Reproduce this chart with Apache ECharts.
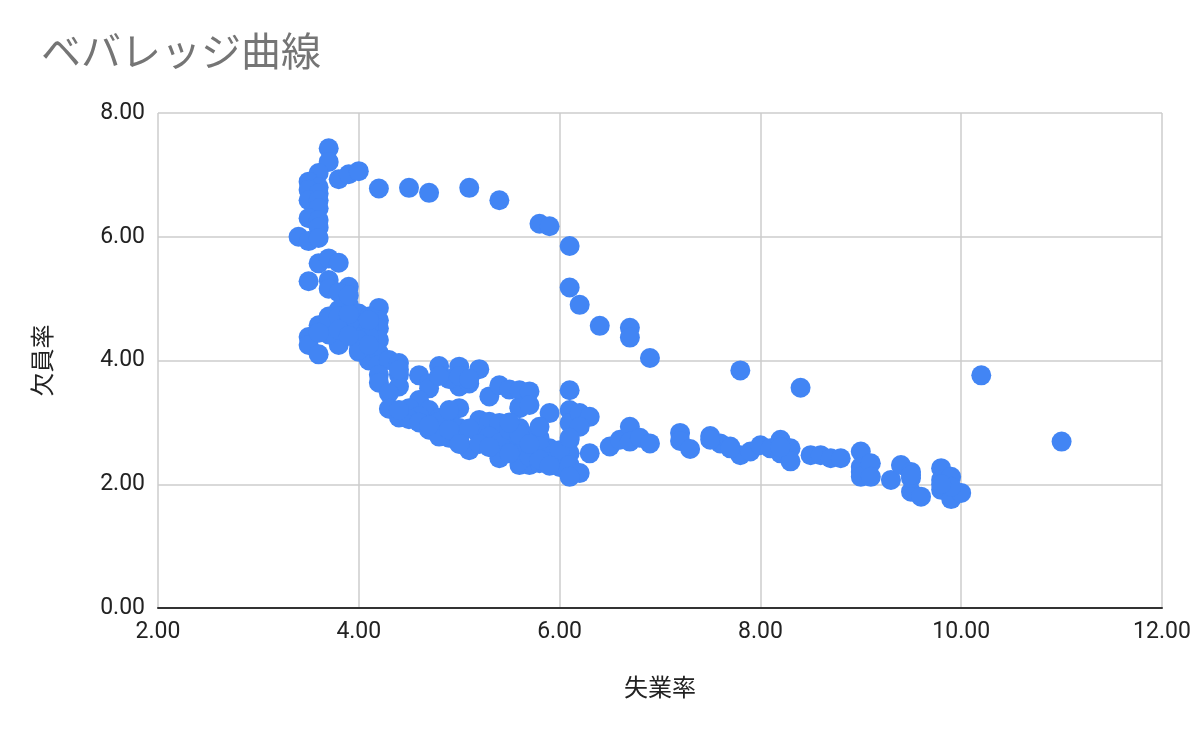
<!DOCTYPE html>
<html>
<head>
<meta charset="utf-8">
<script src="https://cdn.jsdelivr.net/npm/echarts@6/dist/echarts.min.js"></script>
<style>
  html, body { margin: 0; padding: 0; background: #fff; }
  #chart { width: 1200px; height: 742px; }
</style>
</head>
<body>
<div id="chart"></div>
<script>
// 失業率 / 欠員率 の組
const unemployment = [
  3.7, 3.7, 3.6, 3.5, 3.6, 3.5, 3.6, 3.5, 3.6, 3.6, 3.5, 3.6, 3.6, 3.4, 3.5, 3.6, 3.8, 3.9, 4.0, 4.2,
  4.5, 4.7, 5.1, 5.4, 5.8, 5.9, 6.1, 6.1, 6.2, 6.4, 6.7, 6.7, 6.9, 7.8, 8.4, 10.2, 11.0,
  3.6, 3.7, 3.8, 3.5, 3.7, 3.7, 3.9, 3.8, 3.9, 3.8, 4.2, 4.2, 4.2, 4.0, 3.7, 3.6, 3.5, 3.5, 3.6,
  3.8, 3.7, 4.0, 4.0, 4.0, 4.1, 4.2, 4.2, 4.2, 4.3, 4.4, 4.2, 3.7, 3.8, 3.9, 4.1, 4.1, 4.0, 4.1,
  3.9, 4.0, 4.1, 3.6, 3.8, 3.9, 4.1, 3.9,
  4.4, 4.4, 4.2, 4.3, 4.6, 4.7, 4.8, 5.0, 5.0, 5.1, 5.2, 5.3, 5.4, 5.5, 5.6, 5.7, 4.7, 4.9, 5.0,
  5.1, 4.8, 4.4, 6.1,
  4.3, 4.4, 4.6, 4.7, 4.8, 4.7, 5.0, 5.2, 4.5, 4.9, 4.9, 5.1, 5.3, 5.4, 5.4, 5.6, 5.7, 5.9, 5.9,
  5.6, 5.6, 5.8, 5.2, 4.8, 5.0, 5.5, 5.7, 5.6, 5.7, 6.1, 4.8, 5.0, 5.4, 5.3, 5.4, 5.6, 5.7, 5.8,
  6.0, 6.1, 6.1, 6.1, 5.8, 5.5, 5.6, 5.7, 5.8, 6.0, 4.9, 4.6, 4.5, 4.4, 4.6, 4.9, 5.1, 5.2, 5.3,
  5.5, 5.6, 5.5, 5.0, 4.7, 5.9, 5.8, 6.0, 5.9, 5.7,
  6.2, 6.3, 6.2, 6.1, 6.3, 6.1, 6.2, 6.1, 6.5, 6.6, 6.7, 6.7, 6.8, 6.9, 7.2, 7.2, 7.3, 7.5, 7.6,
  7.7, 7.8, 7.9, 8.0, 8.1, 8.2, 8.2, 8.3, 8.3, 8.5, 8.6, 8.7, 8.8, 9.0, 9.0, 9.0, 9.0, 9.1, 9.1,
  9.3, 9.4, 9.5, 9.5, 9.6, 9.5, 9.8, 9.8, 9.8, 9.9, 9.9, 10.0, 9.9, 9.8, 9.5, 8.2, 7.5, 7.7
];
const vacancy = [
  7.43, 7.21, 7.03, 6.89, 6.80, 6.76, 6.70, 6.59, 6.59, 6.46, 6.30, 6.27, 6.15, 6.00, 5.93, 5.98, 6.93, 7.01, 7.06, 6.78,
  6.79, 6.71, 6.79, 6.59, 6.21, 6.17, 5.85, 5.18, 4.90, 4.56, 4.53, 4.37, 4.04, 3.84, 3.56, 3.76, 2.69,
  5.57, 5.65, 5.58, 5.28, 5.30, 5.16, 5.19, 5.10, 4.90, 4.82, 4.85, 4.65, 4.52, 4.76, 4.65, 4.57, 4.38, 4.25, 4.10,
  4.25, 4.42, 4.55, 4.28, 4.14, 4.00, 4.33, 4.12, 3.93, 4.01, 3.96, 3.77, 4.71, 4.71, 4.60, 4.55, 4.39, 4.33, 4.71,
  4.75, 4.17, 4.25, 4.45, 4.50, 4.40, 4.65, 5.05,
  3.77, 3.58, 3.64, 3.47, 3.76, 3.63, 3.91, 3.90, 3.58, 3.63, 3.86, 3.42, 3.60, 3.53, 3.52, 3.50, 3.55, 3.70, 3.75,
  3.70, 3.75, 3.85, 3.52,
  3.22, 3.08, 3.36, 3.20, 3.07, 2.88, 3.23, 3.04, 3.23, 3.07, 2.75, 2.55, 3.01, 2.91, 2.42, 2.31, 2.31, 2.58, 3.15,
  3.25, 2.91, 2.75, 2.80, 3.01, 2.91, 2.69, 2.53, 3.23, 3.28, 3.20, 2.77, 2.72, 2.99, 2.77, 2.67, 2.37, 2.77, 2.61,
  2.39, 2.99, 2.72, 2.50, 2.93, 2.88, 2.61, 2.45, 2.34, 2.28, 2.88, 3.10, 3.05, 3.20, 3.00, 3.20, 2.90, 2.65, 2.60,
  2.50, 2.80, 3.00, 2.65, 2.95, 2.45, 2.40, 2.55, 2.30, 2.65,
  3.15, 3.09, 2.93, 2.75, 2.50, 2.31, 2.18, 2.12, 2.61, 2.72, 2.93, 2.69, 2.75, 2.66, 2.83, 2.70, 2.57, 2.78, 2.66,
  2.61, 2.47, 2.53, 2.63, 2.58, 2.72, 2.50, 2.58, 2.37, 2.47, 2.47, 2.42, 2.42, 2.53, 2.28, 2.20, 2.12, 2.34, 2.12,
  2.07, 2.31, 2.20, 1.88, 1.80, 2.10, 2.26, 2.07, 1.91, 2.12, 1.76, 1.86, 1.96, 2.00, 2.15, 2.60, 2.72, 2.58
];
const xTicks = [2, 4, 6, 8, 10, 12];
const yTicks = [0, 2, 4, 6, 8];

const chart = echarts.init(document.getElementById("chart"));
const font = "Roboto, 'Noto Sans CJK JP', sans-serif";

chart.setOption({
  animation: false,
  title: {
    text: "ベバレッジ曲線",
    left: 36,
    top: 26,
    textStyle: {
      color: "#757575",
      fontSize: 40,
      fontWeight: "normal",
      fontFamily: "'Noto Sans CJK JP', sans-serif",
    },
  },
  grid: { left: 158, right: 38, top: 113, bottom: 134 },
  xAxis: {
    type: "value",
    min: xTicks[0],
    max: xTicks[xTicks.length - 1],
    interval: 2,
    name: "失業率",
    nameLocation: "middle",
    nameGap: 70,
    nameTextStyle: { color: "#222", fontSize: 24, fontFamily: font },
    axisLine: { show: true, lineStyle: { color: "#333", width: 2 } },
    axisTick: { show: false },
    axisLabel: {
      color: "#222",
      fontSize: 23,
      margin: 13,
      fontFamily: font,
      formatter: (v) => v.toFixed(2),
    },
    splitLine: { show: true, lineStyle: { color: "#cccccc", width: 1.5 } },
  },
  yAxis: {
    type: "value",
    min: yTicks[0],
    max: yTicks[yTicks.length - 1],
    interval: 2,
    name: "欠員率",
    nameLocation: "middle",
    nameGap: 101,
    nameTextStyle: { color: "#222", fontSize: 24, fontFamily: font },
    axisLine: { show: false },
    axisTick: { show: false },
    axisLabel: {
      color: "#222",
      fontSize: 23,
      margin: 13,
      fontFamily: font,
      formatter: (v) => v.toFixed(2),
    },
    splitLine: { show: true, lineStyle: { color: "#cccccc", width: 1.5 } },
  },
  series: [
    {
      type: "scatter",
      symbolSize: 20,
      itemStyle: { color: "#4285F4", opacity: 1 },
      data: unemployment.map((u, i) => [u, vacancy[i]]),
    },
  ],
});
</script>
</body>
</html>
